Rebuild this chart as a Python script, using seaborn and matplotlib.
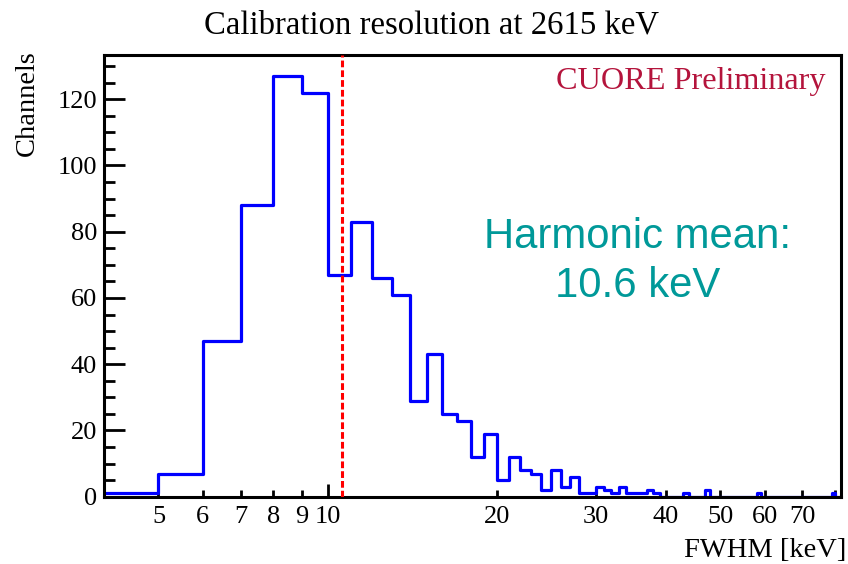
import numpy as np
import pandas as pd
import matplotlib
matplotlib.use("Agg")
import matplotlib.pyplot as plt
import seaborn as sns
from matplotlib.ticker import FixedLocator, FixedFormatter

# ---- data (1 keV bins from 4 to 82 keV) ----
bin_left = list(range(4, 82))
counts = [1, 7, 47, 88, 127, 122, 67, 83, 66, 61,      # 4-13
          29, 43, 25, 23, 12, 19, 5, 12, 8, 7,         # 14-23
          2, 8, 3, 6, 1, 1, 3, 2, 1, 3,                # 24-33
          1, 1, 1, 2, 1, 0, 0, 0, 0, 1,                # 34-43
          0, 0, 0, 2, 0, 0, 0, 0, 0, 0,                # 44-53
          0, 0, 0, 0, 1, 0, 0, 0, 0, 0,                # 54-63
          0, 0, 0, 0, 0, 0, 0, 0, 0, 0,                # 64-73
          0, 0, 0, 0, 0, 1, 0, 0]                      # 74-81
harmonic_mean = 10.6
x_major = [10]
x_minor = [5, 6, 7, 8, 9, 20, 30, 40, 50, 60, 70, 80]
x_minor_labels = ["5", "6", "7", "8", "9", "20", "30", "40", "50", "60", "70", ""]

df = pd.DataFrame({"fwhm": [b + 0.5 for b in bin_left], "n": counts})
edges = bin_left + [bin_left[-1] + 1]

sns.set_style("white", {"text.color": "black", "xtick.color": "black",
                        "ytick.color": "black", "axes.labelcolor": "black",
                        "axes.edgecolor": "black"})
serif = ["Liberation Serif", "DejaVu Serif"]
sans = ["Liberation Sans", "DejaVu Sans"]
plt.rcParams["font.family"] = serif

fig = plt.figure(figsize=(8.48, 5.64), dpi=100)
ax = fig.add_axes([104 / 848, 1 - 496.7 / 564, (841 - 104) / 848, (496.7 - 55) / 564])

sns.histplot(data=df, x="fwhm", weights="n", bins=edges, element="step",
             fill=False, color="#0000ff", linewidth=2.3, ax=ax)

ax.set_xscale("log")
ax.set_xlim(4, 82)
ax.set_ylim(0, 133.35)

ax.axvline(harmonic_mean, color="#ff0000", linewidth=2.2,
           linestyle=(0, (2.2, 1.0)), zorder=3)

for s in ax.spines.values():
    s.set_linewidth(2.2)
    s.set_color("black")

ax.xaxis.set_major_locator(FixedLocator(x_major))
ax.xaxis.set_major_formatter(FixedFormatter([str(v) for v in x_major]))
ax.xaxis.set_minor_locator(FixedLocator(x_minor))
ax.xaxis.set_minor_formatter(FixedFormatter(x_minor_labels))
ax.yaxis.set_major_locator(FixedLocator(list(range(0, 121, 20))))
ax.yaxis.set_minor_locator(FixedLocator([v for v in range(0, 131, 5) if v % 20]))

ax.tick_params(axis="x", which="major", direction="in", length=9.5, width=2,
               labelsize=19, pad=7, bottom=True, top=False, colors="black")
ax.tick_params(axis="x", which="minor", direction="in", length=5, width=2,
               labelsize=19, pad=7, bottom=True, top=False, colors="black")
ax.tick_params(axis="y", which="major", direction="in", length=15, width=2,
               labelsize=19, pad=5, left=True, right=False, colors="black")
ax.tick_params(axis="y", which="minor", direction="in", length=8, width=2,
               left=True, right=False, colors="black")
for lab in ax.get_xticklabels(which="both") + ax.get_yticklabels():
    lab.set_family(serif)

ax.set_xlabel("")
ax.set_ylabel("")

fig.text(432 / 848, 1 - 33 / 564, "Calibration resolution at 2615 keV",
         ha="center", va="baseline", fontsize=23.6, family=serif, color="black")
fig.text(846 / 848, 1 - 557 / 564, "FWHM [keV]", ha="right", va="baseline",
         fontsize=20.5, family=serif, color="black")
fig.text(27 / 848, 1 - 50 / 564, "Channels", ha="center", va="top",
         rotation=90, fontsize=20.5, family=serif, color="black")
fig.text(556 / 848, 1 - 88.5 / 564, "CUORE Preliminary", ha="left",
         va="baseline", fontsize=23.2, family=serif, color="#b4143c")
fig.text(638 / 848, 1 - 248 / 564, "Harmonic mean:", ha="center",
         va="baseline", fontsize=30.2, family=sans, color="#009999")
fig.text(638 / 848, 1 - 297 / 564, f"{harmonic_mean} keV", ha="center",
         va="baseline", fontsize=30.2, family=sans, color="#009999")

fig.savefig("out.png", dpi=100)
